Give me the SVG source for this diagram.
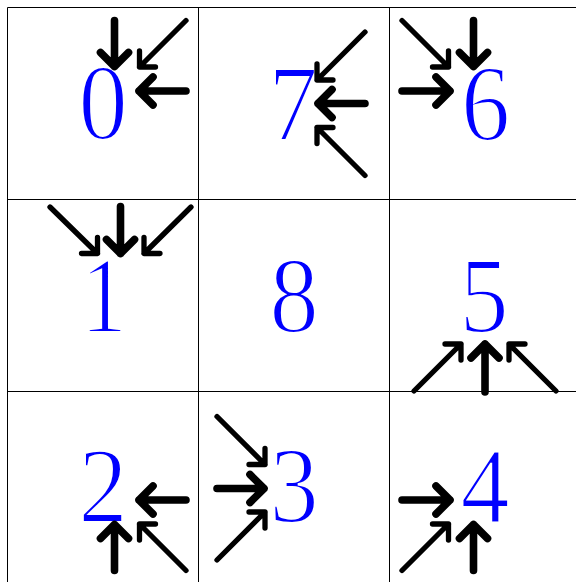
<svg xmlns="http://www.w3.org/2000/svg" width="576" height="582" viewBox="0 0 576 582">
<style>
.grid{stroke:#000;stroke-width:1;fill:none}
.num{font-family:"Liberation Serif","Times New Roman",serif;font-size:107px;fill:#0000ff;stroke:#fff;stroke-width:2.2;text-anchor:middle}
.s{stroke:#000;stroke-width:7.6;fill:none;stroke-linecap:round;stroke-linejoin:round}
.d{stroke:#000;stroke-width:5.3;fill:none;stroke-linecap:round;stroke-linejoin:round}
</style>
<rect width="576" height="582" fill="#fff"/>
<g id="grid" class="grid">
<line x1="7.5" y1="7.5" x2="7.5" y2="582"/>
<line x1="198.5" y1="7.5" x2="198.5" y2="582"/>
<line x1="389.5" y1="7.5" x2="389.5" y2="582"/>
<line x1="7.5" y1="7.5" x2="576" y2="7.5"/>
<line x1="7.5" y1="199.5" x2="576" y2="199.5"/>
<line x1="7.5" y1="391.5" x2="576" y2="391.5"/>
</g>
<g id="node-0"><text class="num" transform="translate(103 139) scale(0.92 1)">0</text></g>
<g id="node-7"><text class="num" transform="translate(293 140) scale(0.92 1)">7</text></g>
<g id="node-6"><text class="num" transform="translate(485.5 139.5) scale(0.92 1)">6</text></g>
<g id="node-1"><text class="num" transform="translate(103.7 331.5) scale(0.86 1)">1</text></g>
<g id="node-8"><text class="num" transform="translate(294 331.5) scale(0.92 1)">8</text></g>
<g id="node-5"><text class="num" transform="translate(484 332) scale(0.92 1)">5</text></g>
<g id="node-2"><text class="num" transform="translate(103 522) scale(0.92 1)">2</text></g>
<g id="node-3"><text class="num" transform="translate(294 521.5) scale(0.92 1)">3</text></g>
<g id="node-4"><text class="num" transform="translate(485 522.5) scale(0.92 1)">4</text></g>
<g id="connectors">
<path class="s" d="M114.5 20.5L114.5 66.5M100.5 52.5L114.5 66.5L128.5 52.5"/>
<path class="d" d="M186 20.5L139.5 67M139.5 51L139.5 67L155.5 67"/>
<path class="s" d="M186 91L139 91M153 77L139 91L153 105"/>
<path class="s" d="M473.5 20.5L473.5 66.5M459.5 52.5L473.5 66.5L487.5 52.5"/>
<path class="d" d="M402 20.5L448.5 67M448.5 51L448.5 67L432.5 67"/>
<path class="s" d="M402 91L450 91M436 77L450 91L436 105"/>
<path class="s" d="M114.5 570.5L114.5 524.5M100.5 538.5L114.5 524.5L128.5 538.5"/>
<path class="d" d="M186 570.5L139.5 524M139.5 540L139.5 524L155.5 524"/>
<path class="s" d="M186 500L139 500M153 486L139 500L153 514"/>
<path class="s" d="M473.5 570.5L473.5 524.5M459.5 538.5L473.5 524.5L487.5 538.5"/>
<path class="d" d="M402 570.5L448.5 524M448.5 540L448.5 524L432.5 524"/>
<path class="s" d="M402 500L450 500M436 486L450 500L436 514"/>
<path class="d" d="M365 32L317 80M317 64L317 80L333 80"/>
<path class="s" d="M365 103.5L318 103.5M332 89.5L318 103.5L332 117.5"/>
<path class="d" d="M365 175.5L317 127.5M317 143.5L317 127.5L333 127.5"/>
<path class="d" d="M217 416.5L265 464.5M249 464.5L265 464.5L265 448.5"/>
<path class="s" d="M217 488.5L264 488.5M250 474.5L264 488.5L250 502.5"/>
<path class="d" d="M217 560L265 512M249 512L265 512L265 528"/>
<path class="d" d="M50 207L97.5 253.5M81.5 253.5L97.5 253.5L97.5 237.5"/>
<path class="s" d="M120.5 206.5L120.5 253.5M106.5 239.5L120.5 253.5L134.5 239.5"/>
<path class="d" d="M191 207L144 253.5M160 253.5L144 253.5L144 237.5"/>
<path class="d" d="M414 391L461 344M445 344L461 344L461 360"/>
<path class="s" d="M485 392L485 344M471 358L485 344L499 358"/>
<path class="d" d="M556 391L509 344M525 344L509 344L509 360"/>
</g>
</svg>
